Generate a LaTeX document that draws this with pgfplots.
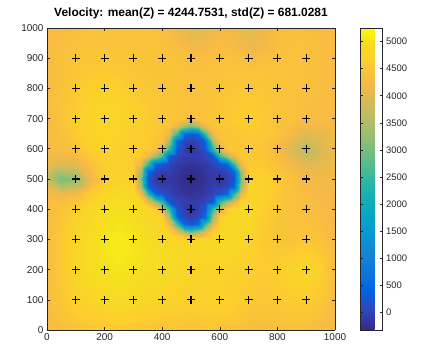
\documentclass[border=0pt]{standalone}
\usepackage{pgfplots}
\pgfplotsset{compat=1.18}
\usepackage{fontspec}
\setmainfont{Liberation Sans}
\pgfplotsset{
  colormap={parula}{
    rgb(0pt)=(0.2081,0.1663,0.5292);
    rgb(4pt)=(0.1959,0.2645,0.7279);
    rgb(8pt)=(0.0117,0.3875,0.8820);
    rgb(12pt)=(0.0498,0.4586,0.8641);
    rgb(16pt)=(0.0793,0.5200,0.8312);
    rgb(20pt)=(0.0343,0.5966,0.8199);
    rgb(24pt)=(0.0228,0.6535,0.7768);
    rgb(28pt)=(0.0843,0.6928,0.7062);
    rgb(32pt)=(0.2178,0.7250,0.6193);
    rgb(36pt)=(0.3953,0.7459,0.5244);
    rgb(40pt)=(0.5709,0.7485,0.4494);
    rgb(44pt)=(0.7184,0.7411,0.3905);
    rgb(48pt)=(0.8507,0.7299,0.3360);
    rgb(52pt)=(0.9739,0.7314,0.2666);
    rgb(56pt)=(0.9880,0.8066,0.1794);
    rgb(60pt)=(0.9626,0.8705,0.1309);
    rgb(63pt)=(0.9763,0.9831,0.0538)
  }
}
\definecolor{axgray}{rgb}{0.15,0.15,0.15}
\begin{document}
\begin{tikzpicture}
\begin{axis}[
  view={0}{90},
  scale only axis,
  width=288bp, height=302bp,
  xmin=0, xmax=1000, ymin=0, ymax=1000,
  xtick={0,200,...,1000},
  ytick={0,100,...,1000},
  tick align=inside,
  major tick length=3bp,
  axis line style={axgray, line width=0.7pt},
  tick style={axgray, line width=0.6pt},
  ticklabel style={font=\fontsize{10}{12}\selectfont, text=axgray},
  /pgf/number format/assume math mode=true,
  /pgf/number format/1000 sep={},
  title={Velocity: mean(Z) = 4244.7531, std(Z) = 681.0281},
  title style={font=\bfseries\fontsize{12}{14}\selectfont},
  colormap name=parula,
  point meta min=-320, point meta max=5250,
  colorbar,
  colorbar style={
    width=22bp,
    at={(parent axis.north east)}, anchor=north west, xshift=17bp,
    ytick={0,500,...,5000},
    tick align=inside,
    major tick length=2.5bp,
    axis line style={axgray, line width=0.7pt},
    yticklabel style={font=\fontsize{9.5}{11}\selectfont, text=axgray},
    /pgf/number format/assume math mode=true,
    /pgf/number format/1000 sep={},
  },
]
% coarse field, 50 m grid
\addplot3[surf, shader=interp, mesh/cols=21, point meta=\thisrow{z}] table[row sep=\\] {
x y z\\
0 0 4300\\ 50 0 4350\\ 100 0 4450\\ 150 0 4500\\ 200 0 4550\\ 250 0 4550\\ 300 0 4550\\ 350 0 4500\\ 400 0 4450\\ 450 0 4450\\ 500 0 4450\\ 550 0 4450\\ 600 0 4450\\ 650 0 4400\\ 700 0 4350\\ 750 0 4350\\ 800 0 4350\\ 850 0 4400\\ 900 0 4400\\ 950 0 4300\\ 1000 0 4250\\
0 50 4300\\ 50 50 4450\\ 100 50 4600\\ 150 50 4650\\ 200 50 4700\\ 250 50 4750\\ 300 50 4700\\ 350 50 4650\\ 400 50 4600\\ 450 50 4600\\ 500 50 4550\\ 550 50 4600\\ 600 50 4600\\ 650 50 4550\\ 700 50 4450\\ 750 50 4450\\ 800 50 4450\\ 850 50 4500\\ 900 50 4500\\ 950 50 4400\\ 1000 50 4250\\
0 100 4300\\ 50 100 4500\\ 100 100 4700\\ 150 100 4800\\ 200 100 4850\\ 250 100 4900\\ 300 100 4850\\ 350 100 4800\\ 400 100 4750\\ 450 100 4700\\ 500 100 4650\\ 550 100 4700\\ 600 100 4750\\ 650 100 4650\\ 700 100 4550\\ 750 100 4500\\ 800 100 4550\\ 850 100 4600\\ 900 100 4600\\ 950 100 4500\\ 1000 100 4300\\
0 150 4300\\ 50 150 4550\\ 100 150 4750\\ 150 150 4900\\ 200 150 4950\\ 250 150 5000\\ 300 150 4950\\ 350 150 4900\\ 400 150 4850\\ 450 150 4800\\ 500 150 4750\\ 550 150 4700\\ 600 150 4700\\ 650 150 4650\\ 700 150 4600\\ 750 150 4550\\ 800 150 4600\\ 850 150 4700\\ 900 150 4750\\ 950 150 4600\\ 1000 150 4300\\
0 200 4300\\ 50 200 4550\\ 100 200 4800\\ 150 200 4950\\ 200 200 5000\\ 250 200 5050\\ 300 200 5000\\ 350 200 4950\\ 400 200 4900\\ 450 200 4850\\ 500 200 4800\\ 550 200 4750\\ 600 200 4750\\ 650 200 4700\\ 700 200 4650\\ 750 200 4600\\ 800 200 4600\\ 850 200 4750\\ 900 200 4850\\ 950 200 4650\\ 1000 200 4300\\
0 250 4300\\ 50 250 4550\\ 100 250 4800\\ 150 250 4950\\ 200 250 5050\\ 250 250 5100\\ 300 250 5050\\ 350 250 5000\\ 400 250 4950\\ 450 250 4900\\ 500 250 4850\\ 550 250 4850\\ 600 250 4850\\ 650 250 4800\\ 700 250 4700\\ 750 250 4600\\ 800 250 4550\\ 850 250 4600\\ 900 250 4700\\ 950 250 4550\\ 1000 250 4300\\
0 300 4300\\ 50 300 4550\\ 100 300 4800\\ 150 300 4950\\ 200 300 5050\\ 250 300 5100\\ 300 300 5050\\ 350 300 4950\\ 400 300 4850\\ 450 300 4800\\ 500 300 4850\\ 550 300 4800\\ 600 300 4850\\ 650 300 4850\\ 700 300 4750\\ 750 300 4550\\ 800 300 4450\\ 850 300 4450\\ 900 300 4500\\ 950 300 4400\\ 1000 300 4250\\
0 350 4300\\ 50 350 4500\\ 100 350 4750\\ 150 350 4900\\ 200 350 5000\\ 250 350 5050\\ 300 350 5000\\ 350 350 4850\\ 400 350 4750\\ 450 350 4750\\ 500 350 4750\\ 550 350 4750\\ 600 350 4750\\ 650 350 4850\\ 700 350 4850\\ 750 350 4600\\ 800 350 4450\\ 850 350 4400\\ 900 350 4400\\ 950 350 4350\\ 1000 350 4250\\
0 400 4300\\ 50 400 4450\\ 100 400 4650\\ 150 400 4850\\ 200 400 4950\\ 250 400 5000\\ 300 400 4950\\ 350 400 4850\\ 400 400 4800\\ 450 400 4800\\ 500 400 4800\\ 550 400 4800\\ 600 400 4850\\ 650 400 4850\\ 700 400 4900\\ 750 400 4650\\ 800 400 4500\\ 850 400 4400\\ 900 400 4350\\ 950 400 4300\\ 1000 400 4250\\
0 450 4300\\ 50 450 4150\\ 100 450 4300\\ 150 450 4650\\ 200 450 4850\\ 250 450 4900\\ 300 450 4850\\ 350 450 4800\\ 400 450 4750\\ 450 450 4750\\ 500 450 4750\\ 550 450 4750\\ 600 450 4800\\ 650 450 4800\\ 700 450 4800\\ 750 450 4700\\ 800 450 4550\\ 850 450 4400\\ 900 450 4300\\ 950 450 4250\\ 1000 450 4250\\
0 500 3700\\ 50 500 3000\\ 100 500 3200\\ 150 500 4150\\ 200 500 4600\\ 250 500 4700\\ 300 500 4700\\ 350 500 4700\\ 400 500 4700\\ 450 500 4650\\ 500 500 4600\\ 550 500 4650\\ 600 500 4700\\ 650 500 4700\\ 700 500 4700\\ 750 500 4700\\ 800 500 4550\\ 850 500 4400\\ 900 500 4250\\ 950 500 4200\\ 1000 500 4250\\
0 550 4200\\ 50 550 4000\\ 100 550 4050\\ 150 550 4400\\ 200 550 4650\\ 250 550 4700\\ 300 550 4650\\ 350 550 4650\\ 400 550 4600\\ 450 550 4550\\ 500 550 4500\\ 550 550 4550\\ 600 550 4600\\ 650 550 4600\\ 700 550 4550\\ 750 550 4550\\ 800 550 4400\\ 850 550 4200\\ 900 550 4000\\ 950 550 4100\\ 1000 550 4200\\
0 600 4300\\ 50 600 4350\\ 100 600 4450\\ 150 600 4650\\ 200 600 4750\\ 250 600 4700\\ 300 600 4600\\ 350 600 4550\\ 400 600 4500\\ 450 600 4450\\ 500 600 4400\\ 550 600 4450\\ 600 600 4500\\ 650 600 4500\\ 700 600 4500\\ 750 600 4450\\ 800 600 4250\\ 850 600 3950\\ 900 600 3550\\ 950 600 3900\\ 1000 600 4200\\
0 650 4300\\ 50 650 4400\\ 100 650 4600\\ 150 650 4750\\ 200 650 4800\\ 250 650 4750\\ 300 650 4650\\ 350 650 4600\\ 400 650 4450\\ 450 650 4400\\ 500 650 4400\\ 550 650 4400\\ 600 650 4450\\ 650 650 4500\\ 700 650 4550\\ 750 650 4550\\ 800 650 4450\\ 850 650 4250\\ 900 650 4000\\ 950 650 4100\\ 1000 650 4200\\
0 700 4300\\ 50 700 4450\\ 100 700 4650\\ 150 700 4750\\ 200 700 4800\\ 250 700 4800\\ 300 700 4700\\ 350 700 4600\\ 400 700 4500\\ 450 700 4450\\ 500 700 4400\\ 550 700 4450\\ 600 700 4500\\ 650 700 4600\\ 700 700 4650\\ 750 700 4550\\ 800 700 4450\\ 850 700 4400\\ 900 700 4350\\ 950 700 4300\\ 1000 700 4250\\
0 750 4300\\ 50 750 4450\\ 100 750 4600\\ 150 750 4750\\ 200 750 4800\\ 250 750 4750\\ 300 750 4650\\ 350 750 4550\\ 400 750 4500\\ 450 750 4450\\ 500 750 4400\\ 550 750 4400\\ 600 750 4500\\ 650 750 4550\\ 700 750 4600\\ 750 750 4550\\ 800 750 4450\\ 850 750 4400\\ 900 750 4350\\ 950 750 4300\\ 1000 750 4300\\
0 800 4300\\ 50 800 4400\\ 100 800 4550\\ 150 800 4650\\ 200 800 4700\\ 250 800 4650\\ 300 800 4550\\ 350 800 4500\\ 400 800 4450\\ 450 800 4450\\ 500 800 4400\\ 550 800 4400\\ 600 800 4450\\ 650 800 4500\\ 700 800 4500\\ 750 800 4500\\ 800 800 4450\\ 850 800 4400\\ 900 800 4400\\ 950 800 4350\\ 1000 800 4300\\
0 850 4300\\ 50 850 4400\\ 100 850 4500\\ 150 850 4550\\ 200 850 4600\\ 250 850 4550\\ 300 850 4500\\ 350 850 4450\\ 400 850 4450\\ 450 850 4450\\ 500 850 4400\\ 550 850 4400\\ 600 850 4450\\ 650 850 4450\\ 700 850 4450\\ 750 850 4450\\ 800 850 4450\\ 850 850 4400\\ 900 850 4400\\ 950 850 4350\\ 1000 850 4300\\
0 900 4300\\ 50 900 4400\\ 100 900 4450\\ 150 900 4500\\ 200 900 4500\\ 250 900 4500\\ 300 900 4450\\ 350 900 4450\\ 400 900 4450\\ 450 900 4400\\ 500 900 4350\\ 550 900 4350\\ 600 900 4400\\ 650 900 4400\\ 700 900 4300\\ 750 900 4350\\ 800 900 4400\\ 850 900 4400\\ 900 900 4400\\ 950 900 4350\\ 1000 900 4300\\
0 950 4300\\ 50 950 4350\\ 100 950 4400\\ 150 950 4450\\ 200 950 4450\\ 250 950 4450\\ 300 950 4450\\ 350 950 4450\\ 400 950 4400\\ 450 950 4300\\ 500 950 4150\\ 550 950 4200\\ 600 950 4300\\ 650 950 4250\\ 700 950 4100\\ 750 950 4200\\ 800 950 4350\\ 850 950 4400\\ 900 950 4400\\ 950 950 4350\\ 1000 950 4300\\
0 1000 4300\\ 50 1000 4300\\ 100 1000 4350\\ 150 1000 4400\\ 200 1000 4400\\ 250 1000 4400\\ 300 1000 4400\\ 350 1000 4400\\ 400 1000 4350\\ 450 1000 4200\\ 500 1000 4000\\ 550 1000 4100\\ 600 1000 4250\\ 650 1000 4200\\ 700 1000 4050\\ 750 1000 4150\\ 800 1000 4300\\ 850 1000 4350\\ 900 1000 4350\\ 950 1000 4300\\ 1000 1000 4250\\
};
% central low-velocity body, 25 m grid
\addplot3[surf, shader=interp, mesh/cols=17, point meta=\thisrow{z}] table[row sep=\\] {
x y z\\
300 300 5050\\ 325 300 5000\\ 350 300 4950\\ 375 300 4900\\ 400 300 4850\\ 425 300 4825\\ 450 300 4800\\ 475 300 4825\\ 500 300 4850\\ 525 300 4825\\ 550 300 4800\\ 575 300 4825\\ 600 300 4850\\ 625 300 4850\\ 650 300 4850\\ 675 300 4800\\ 700 300 4750\\
300 325 5025\\ 325 325 4960\\ 350 325 4900\\ 375 325 4850\\ 400 325 4800\\ 425 325 4790\\ 450 325 4150\\ 475 325 3450\\ 500 325 3000\\ 525 325 3450\\ 550 325 4150\\ 575 325 4790\\ 600 325 4800\\ 625 325 4825\\ 650 325 4850\\ 675 325 4825\\ 700 325 4800\\
300 350 5000\\ 325 350 4925\\ 350 350 4850\\ 375 350 4800\\ 400 350 4750\\ 425 350 4150\\ 450 350 2500\\ 475 350 500\\ 500 350 250\\ 525 350 500\\ 550 350 2500\\ 575 350 4150\\ 600 350 4750\\ 625 350 4800\\ 650 350 4850\\ 675 350 4850\\ 700 350 4850\\
300 375 4975\\ 325 375 4910\\ 350 375 4850\\ 375 375 4810\\ 400 375 4700\\ 425 375 3450\\ 450 375 500\\ 475 375 50\\ 500 375 -50\\ 525 375 50\\ 550 375 500\\ 575 375 3450\\ 600 375 4700\\ 625 375 4825\\ 650 375 4850\\ 675 375 4860\\ 700 375 4875\\
300 400 4950\\ 325 400 4900\\ 350 400 4850\\ 375 400 4650\\ 400 400 3950\\ 425 400 2500\\ 450 400 250\\ 475 400 -50\\ 500 400 -150\\ 525 400 -50\\ 550 400 250\\ 575 400 2500\\ 600 400 3950\\ 625 400 4650\\ 650 400 4850\\ 675 400 4875\\ 700 400 4900\\
300 425 4900\\ 325 425 4860\\ 350 425 4150\\ 375 425 3450\\ 400 425 2500\\ 425 425 300\\ 450 425 50\\ 475 425 -50\\ 500 425 -60\\ 525 425 -50\\ 550 425 50\\ 575 425 300\\ 600 425 2500\\ 625 425 3450\\ 650 425 4150\\ 675 425 4840\\ 700 425 4850\\
300 450 4850\\ 325 450 4150\\ 350 450 2500\\ 375 450 500\\ 400 450 250\\ 425 450 50\\ 450 450 -100\\ 475 450 -150\\ 500 450 -200\\ 525 450 -150\\ 550 450 -100\\ 575 450 50\\ 600 450 250\\ 625 450 500\\ 650 450 2500\\ 675 450 4150\\ 700 450 4800\\
300 475 4775\\ 325 475 3450\\ 350 475 500\\ 375 475 50\\ 400 475 -50\\ 425 475 -50\\ 450 475 -150\\ 475 475 -250\\ 500 475 -280\\ 525 475 -250\\ 550 475 -150\\ 575 475 -50\\ 600 475 -50\\ 625 475 50\\ 650 475 500\\ 675 475 3450\\ 700 475 4750\\
300 500 4700\\ 325 500 3000\\ 350 500 250\\ 375 500 -50\\ 400 500 -150\\ 425 500 -100\\ 450 500 -200\\ 475 500 -280\\ 500 500 -320\\ 525 500 -280\\ 550 500 -200\\ 575 500 -100\\ 600 500 -150\\ 625 500 -50\\ 650 500 250\\ 675 500 3000\\ 700 500 4700\\
300 525 4675\\ 325 525 3450\\ 350 525 500\\ 375 525 50\\ 400 525 -50\\ 425 525 -50\\ 450 525 -150\\ 475 525 -250\\ 500 525 -280\\ 525 525 -250\\ 550 525 -150\\ 575 525 -50\\ 600 525 -50\\ 625 525 50\\ 650 525 500\\ 675 525 3450\\ 700 525 4625\\
300 550 4650\\ 325 550 4150\\ 350 550 2500\\ 375 550 500\\ 400 550 250\\ 425 550 50\\ 450 550 -100\\ 475 550 -150\\ 500 550 -200\\ 525 550 -150\\ 550 550 -100\\ 575 550 50\\ 600 550 250\\ 625 550 500\\ 650 550 2500\\ 675 550 4150\\ 700 550 4550\\
300 575 4625\\ 325 575 4610\\ 350 575 4150\\ 375 575 3450\\ 400 575 2500\\ 425 575 300\\ 450 575 50\\ 475 575 -50\\ 500 575 -60\\ 525 575 -50\\ 550 575 50\\ 575 575 300\\ 600 575 2500\\ 625 575 3450\\ 650 575 4150\\ 675 575 4550\\ 700 575 4525\\
300 600 4600\\ 325 600 4575\\ 350 600 4550\\ 375 600 4450\\ 400 600 3950\\ 425 600 2500\\ 450 600 250\\ 475 600 -50\\ 500 600 -150\\ 525 600 -50\\ 550 600 250\\ 575 600 2500\\ 600 600 3950\\ 625 600 4450\\ 650 600 4500\\ 675 600 4500\\ 700 600 4500\\
300 625 4625\\ 325 625 4600\\ 350 625 4575\\ 375 625 4525\\ 400 625 4400\\ 425 625 3450\\ 450 625 500\\ 475 625 50\\ 500 625 -50\\ 525 625 50\\ 550 625 500\\ 575 625 3450\\ 600 625 4400\\ 625 625 4490\\ 650 625 4500\\ 675 625 4515\\ 700 625 4525\\
300 650 4650\\ 325 650 4625\\ 350 650 4600\\ 375 650 4525\\ 400 650 4450\\ 425 650 4150\\ 450 650 2500\\ 475 650 500\\ 500 650 250\\ 525 650 500\\ 550 650 2500\\ 575 650 4150\\ 600 650 4450\\ 625 650 4475\\ 650 650 4500\\ 675 650 4525\\ 700 650 4550\\
300 675 4675\\ 325 675 4640\\ 350 675 4600\\ 375 675 4540\\ 400 675 4475\\ 425 675 4450\\ 450 675 4150\\ 475 675 3450\\ 500 675 3000\\ 525 675 3450\\ 550 675 4150\\ 575 675 4450\\ 600 675 4475\\ 625 675 4510\\ 650 675 4550\\ 675 675 4575\\ 700 675 4600\\
300 700 4700\\ 325 700 4650\\ 350 700 4600\\ 375 700 4550\\ 400 700 4500\\ 425 700 4475\\ 450 700 4450\\ 475 700 4425\\ 500 700 4400\\ 525 700 4425\\ 550 700 4450\\ 575 700 4475\\ 600 700 4500\\ 625 700 4550\\ 650 700 4600\\ 675 700 4625\\ 700 700 4650\\
};
\addplot3[only marks, mark=+, mark size=4bp, mark options={line width=1.1pt, black}] table[row sep=\\] {
x y z\\
100 100 6000\\ 200 100 6000\\ 300 100 6000\\ 400 100 6000\\ 500 100 6000\\ 600 100 6000\\ 700 100 6000\\ 800 100 6000\\ 900 100 6000\\
100 200 6000\\ 200 200 6000\\ 300 200 6000\\ 400 200 6000\\ 500 200 6000\\ 600 200 6000\\ 700 200 6000\\ 800 200 6000\\ 900 200 6000\\
100 300 6000\\ 200 300 6000\\ 300 300 6000\\ 400 300 6000\\ 500 300 6000\\ 600 300 6000\\ 700 300 6000\\ 800 300 6000\\ 900 300 6000\\
100 400 6000\\ 200 400 6000\\ 300 400 6000\\ 400 400 6000\\ 500 400 6000\\ 600 400 6000\\ 700 400 6000\\ 800 400 6000\\ 900 400 6000\\
100 500 6000\\ 200 500 6000\\ 300 500 6000\\ 400 500 6000\\ 500 500 6000\\ 600 500 6000\\ 700 500 6000\\ 800 500 6000\\ 900 500 6000\\
100 600 6000\\ 200 600 6000\\ 300 600 6000\\ 400 600 6000\\ 500 600 6000\\ 600 600 6000\\ 700 600 6000\\ 800 600 6000\\ 900 600 6000\\
100 700 6000\\ 200 700 6000\\ 300 700 6000\\ 400 700 6000\\ 500 700 6000\\ 600 700 6000\\ 700 700 6000\\ 800 700 6000\\ 900 700 6000\\
100 800 6000\\ 200 800 6000\\ 300 800 6000\\ 400 800 6000\\ 500 800 6000\\ 600 800 6000\\ 700 800 6000\\ 800 800 6000\\ 900 800 6000\\
100 900 6000\\ 200 900 6000\\ 300 900 6000\\ 400 900 6000\\ 500 900 6000\\ 600 900 6000\\ 700 900 6000\\ 800 900 6000\\ 900 900 6000\\
};
\coordinate (SW) at (rel axis cs:0,0,0);
\end{axis}
\path (SW) ++(-47bp,-22bp) rectangle ++(422bp,352bp);
\end{tikzpicture}
\end{document}
